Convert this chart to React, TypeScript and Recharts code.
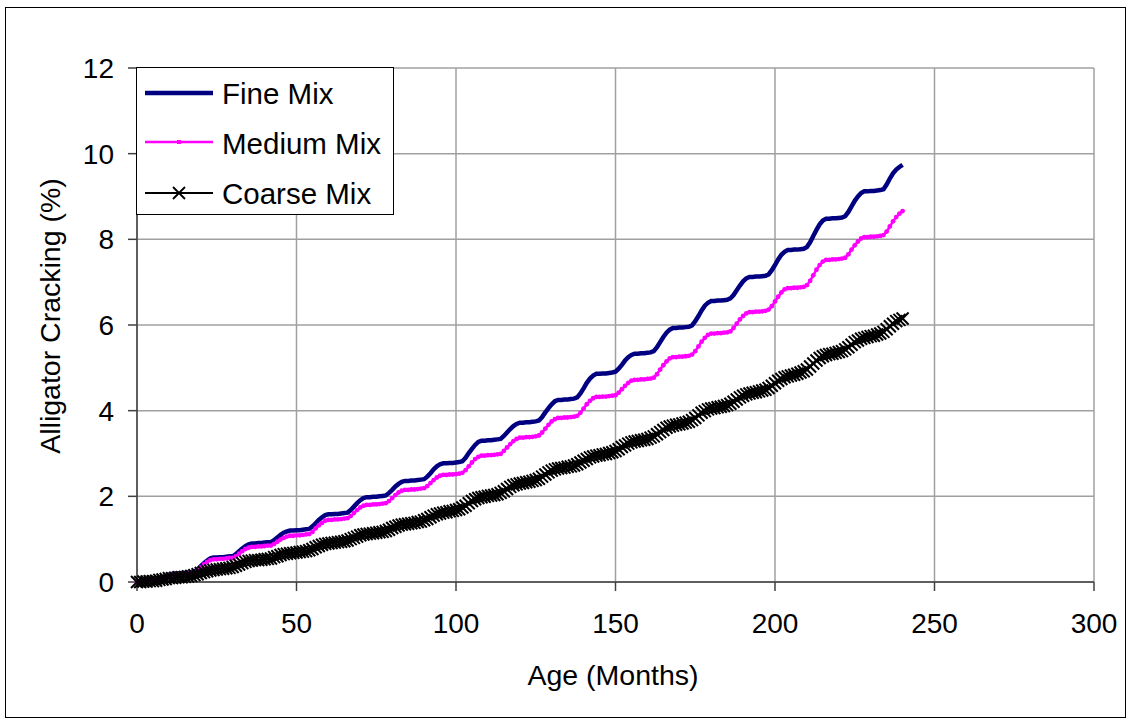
import React from "react";
import { LineChart, Line, XAxis, YAxis, CartesianGrid } from "recharts";

// monthly values, month 0..240
const FINE_MIX = [
  0, 0, 0.01, 0.02, 0.03, 0.04, 0.06, 0.08, 0.11, 0.14, 0.17, 0.19,
  0.2, 0.2, 0.21, 0.21, 0.22, 0.23, 0.24, 0.29, 0.37, 0.44, 0.5, 0.55,
  0.57, 0.57, 0.58, 0.58, 0.59, 0.6, 0.6, 0.65, 0.72, 0.78, 0.84, 0.88,
  0.9, 0.9, 0.91, 0.91, 0.92, 0.93, 0.93, 0.98, 1.04, 1.1, 1.15, 1.18,
  1.2, 1.2, 1.21, 1.21, 1.22, 1.23, 1.24, 1.3, 1.37, 1.45, 1.51, 1.56,
  1.58, 1.58, 1.59, 1.59, 1.6, 1.61, 1.62, 1.68, 1.76, 1.84, 1.91, 1.96,
  1.98, 1.98, 1.99, 1.99, 2, 2.01, 2.02, 2.08, 2.15, 2.23, 2.29, 2.34,
  2.36, 2.36, 2.37, 2.37, 2.38, 2.39, 2.4, 2.46, 2.54, 2.63, 2.7, 2.75,
  2.77, 2.77, 2.78, 2.78, 2.79, 2.8, 2.82, 2.9, 3.01, 3.11, 3.2, 3.27,
  3.3, 3.3, 3.31, 3.31, 3.32, 3.33, 3.34, 3.41, 3.49, 3.57, 3.64, 3.69,
  3.72, 3.72, 3.73, 3.73, 3.74, 3.75, 3.77, 3.85, 3.96, 4.06, 4.15, 4.22,
  4.25, 4.25, 4.26, 4.26, 4.27, 4.28, 4.31, 4.4, 4.52, 4.65, 4.75, 4.82,
  4.86, 4.86, 4.87, 4.87, 4.88, 4.89, 4.91, 4.98, 5.07, 5.17, 5.25, 5.3,
  5.33, 5.33, 5.34, 5.34, 5.35, 5.36, 5.39, 5.48, 5.6, 5.72, 5.82, 5.89,
  5.93, 5.93, 5.94, 5.94, 5.95, 5.96, 5.99, 6.09, 6.21, 6.34, 6.45, 6.52,
  6.56, 6.56, 6.57, 6.57, 6.58, 6.59, 6.62, 6.7, 6.81, 6.92, 7.02, 7.09,
  7.12, 7.12, 7.13, 7.13, 7.14, 7.15, 7.18, 7.28, 7.4, 7.53, 7.64, 7.71,
  7.75, 7.75, 7.76, 7.76, 7.77, 7.78, 7.82, 7.93, 8.08, 8.22, 8.35, 8.44,
  8.48, 8.48, 8.49, 8.49, 8.5, 8.51, 8.54, 8.64, 8.77, 8.9, 9, 9.08,
  9.12, 9.12, 9.13, 9.13, 9.14, 9.15, 9.17, 9.28, 9.42, 9.54, 9.63, 9.69, 9.74,
];

const MEDIUM_MIX = [
  0, 0, 0.01, 0.02, 0.03, 0.04, 0.05, 0.07, 0.1, 0.13, 0.15, 0.17,
  0.18, 0.18, 0.19, 0.19, 0.2, 0.21, 0.22, 0.27, 0.34, 0.41, 0.47, 0.51,
  0.53, 0.53, 0.54, 0.54, 0.55, 0.56, 0.56, 0.6, 0.66, 0.72, 0.77, 0.8,
  0.82, 0.82, 0.83, 0.83, 0.84, 0.85, 0.85, 0.89, 0.94, 0.99, 1.03, 1.06,
  1.08, 1.08, 1.09, 1.09, 1.1, 1.11, 1.12, 1.17, 1.25, 1.32, 1.38, 1.43,
  1.45, 1.45, 1.46, 1.46, 1.47, 1.48, 1.49, 1.54, 1.61, 1.68, 1.74, 1.78,
  1.8, 1.8, 1.81, 1.81, 1.82, 1.83, 1.84, 1.89, 1.96, 2.03, 2.09, 2.13,
  2.15, 2.15, 2.16, 2.16, 2.17, 2.18, 2.19, 2.24, 2.31, 2.38, 2.44, 2.48,
  2.5, 2.5, 2.51, 2.51, 2.52, 2.53, 2.55, 2.61, 2.7, 2.79, 2.87, 2.92,
  2.95, 2.95, 2.96, 2.96, 2.97, 2.98, 2.99, 3.06, 3.14, 3.22, 3.29, 3.34,
  3.37, 3.37, 3.38, 3.38, 3.39, 3.4, 3.42, 3.49, 3.58, 3.67, 3.75, 3.8,
  3.83, 3.83, 3.84, 3.84, 3.85, 3.86, 3.88, 3.95, 4.05, 4.15, 4.23, 4.29,
  4.32, 4.32, 4.33, 4.33, 4.34, 4.35, 4.36, 4.42, 4.5, 4.58, 4.65, 4.7,
  4.72, 4.72, 4.73, 4.73, 4.74, 4.75, 4.77, 4.85, 4.96, 5.06, 5.15, 5.22,
  5.25, 5.25, 5.26, 5.26, 5.27, 5.28, 5.31, 5.39, 5.5, 5.61, 5.7, 5.77,
  5.8, 5.8, 5.81, 5.81, 5.82, 5.83, 5.85, 5.93, 6.03, 6.13, 6.21, 6.27,
  6.3, 6.3, 6.31, 6.31, 6.32, 6.33, 6.36, 6.44, 6.55, 6.66, 6.76, 6.83,
  6.86, 6.86, 6.87, 6.87, 6.88, 6.89, 6.93, 7.03, 7.16, 7.29, 7.4, 7.48,
  7.52, 7.52, 7.53, 7.53, 7.54, 7.55, 7.57, 7.65, 7.76, 7.86, 7.95, 8.02,
  8.05, 8.05, 8.06, 8.06, 8.07, 8.08, 8.1, 8.18, 8.3, 8.42, 8.52, 8.6, 8.66,
];

const COARSE_MIX = [
  0, 0, 0.01, 0.01, 0.02, 0.02, 0.03, 0.05, 0.06, 0.07, 0.09, 0.09,
  0.1, 0.11, 0.11, 0.12, 0.13, 0.14, 0.16, 0.18, 0.21, 0.23, 0.25, 0.27,
  0.28, 0.29, 0.3, 0.31, 0.32, 0.33, 0.35, 0.38, 0.41, 0.44, 0.47, 0.49,
  0.5, 0.51, 0.51, 0.52, 0.53, 0.54, 0.55, 0.58, 0.6, 0.63, 0.65, 0.66,
  0.67, 0.68, 0.69, 0.7, 0.71, 0.72, 0.74, 0.77, 0.81, 0.84, 0.87, 0.89,
  0.9, 0.91, 0.92, 0.93, 0.94, 0.95, 0.97, 1, 1.03, 1.06, 1.09, 1.11,
  1.12, 1.13, 1.14, 1.15, 1.16, 1.17, 1.19, 1.22, 1.26, 1.29, 1.32, 1.34,
  1.35, 1.36, 1.37, 1.38, 1.4, 1.41, 1.44, 1.47, 1.51, 1.55, 1.58, 1.6,
  1.62, 1.63, 1.65, 1.66, 1.68, 1.7, 1.74, 1.78, 1.84, 1.89, 1.93, 1.96,
  1.98, 1.99, 2.01, 2.02, 2.03, 2.05, 2.08, 2.12, 2.17, 2.22, 2.26, 2.28,
  2.3, 2.31, 2.33, 2.34, 2.36, 2.38, 2.41, 2.46, 2.51, 2.56, 2.6, 2.63,
  2.65, 2.66, 2.67, 2.69, 2.7, 2.72, 2.75, 2.79, 2.83, 2.87, 2.91, 2.93,
  2.95, 2.96, 2.98, 2.99, 3.01, 3.03, 3.06, 3.1, 3.15, 3.19, 3.23, 3.26,
  3.28, 3.29, 3.31, 3.32, 3.34, 3.37, 3.4, 3.45, 3.5, 3.55, 3.6, 3.63,
  3.65, 3.67, 3.68, 3.7, 3.72, 3.74, 3.78, 3.83, 3.89, 3.95, 3.99, 4.03,
  4.05, 4.06, 4.08, 4.09, 4.11, 4.13, 4.16, 4.21, 4.26, 4.31, 4.35, 4.38,
  4.4, 4.42, 4.43, 4.45, 4.47, 4.49, 4.53, 4.58, 4.64, 4.7, 4.74, 4.78,
  4.8, 4.82, 4.84, 4.86, 4.89, 4.92, 4.96, 5.03, 5.1, 5.17, 5.23, 5.27,
  5.3, 5.32, 5.33, 5.35, 5.37, 5.39, 5.43, 5.48, 5.54, 5.6, 5.64, 5.68,
  5.7, 5.72, 5.74, 5.75, 5.78, 5.8, 5.84, 5.9, 5.97, 6.03, 6.09, 6.12, 6.15,
];

const X_TICKS = [0, 50, 100, 150, 200, 250, 300];
const Y_TICKS = [0, 2, 4, 6, 8, 10, 12];

const SERIES = [
  { key: "fine", name: "Fine Mix", color: "#000080" },
  { key: "medium", name: "Medium Mix", color: "#FF00FF" },
  { key: "coarse", name: "Coarse Mix", color: "#000000" },
];

const rows = FINE_MIX.map((v, i) => ({
  month: i,
  fine: v,
  medium: MEDIUM_MIX[i],
  coarse: COARSE_MIX[i],
}));

const FONT = "Arial, 'Liberation Sans', sans-serif";

function Cross(props: any) {
  const { cx, cy, index } = props;
  if (cx == null || cy == null) return <g key={`x-${index}`} />;
  const s = 6;
  return (
    <path
      key={`x-${index}`}
      d={`M${cx - s},${cy - s}L${cx + s},${cy + s}M${cx - s},${cy + s}L${cx + s},${cy - s}`}
      stroke="#000"
      strokeWidth={2}
      fill="none"
    />
  );
}

function LegendBox() {
  return (
    <svg
      width={258}
      height={148}
      style={{ position: "absolute", left: 136, top: 67 }}
    >
      <rect x={0.5} y={0.5} width={257} height={147} fill="#fff" stroke="#000" />
      <line x1={9} y1={26} x2={77} y2={26} stroke="#000080" strokeWidth={4.5} />
      <line x1={9} y1={75} x2={77} y2={75} stroke="#FF00FF" strokeWidth={2.5} />
      <rect x={41} y={73} width={4} height={4} fill="#FF00FF" />
      <line x1={9} y1={126} x2={77} y2={126} stroke="#000" strokeWidth={1.8} />
      <path d="M37,120L49,132M37,132L49,120" stroke="#000" strokeWidth={1.8} />
      {SERIES.map((s, i) => (
        <text
          key={s.key}
          x={86}
          y={26 + i * 50}
          dy="0.36em"
          fontSize={29.5}
          fontFamily={FONT}
          fill="#000"
        >
          {s.name}
        </text>
      ))}
    </svg>
  );
}

export default function App() {
  return (
    <div
      style={{
        position: "absolute",
        left: 0,
        top: 0,
        width: 1130,
        height: 722,
        background: "#fff",
        fontFamily: FONT,
      }}
    >
      <div
        style={{
          position: "absolute",
          left: 5,
          top: 7,
          width: 1119,
          height: 709,
          border: "1.5px solid #000",
        }}
      />
      <LineChart
        width={1130}
        height={722}
        data={rows}
        margin={{ top: 68, right: 36, bottom: 110, left: 77 }}
        style={{ position: "absolute", left: 0, top: 0 }}
      >
        <CartesianGrid stroke="#a0a0a0" strokeWidth={1.5} />
        <XAxis
          dataKey="month"
          type="number"
          domain={[0, 300]}
          ticks={X_TICKS}
          interval={0}
          height={30}
          tickSize={9}
          tickMargin={22}
          stroke="#404040"
          strokeWidth={1.5}
          tick={{ fontSize: 28, fill: "#000", fontFamily: FONT }}
          label={{
            content: () => (
              <text x={613} y={685} textAnchor="middle" fontSize={28.5} fontFamily={FONT} fill="#000">
                Age (Months)
              </text>
            ),
          }}
        />
        <YAxis
          type="number"
          domain={[0, 12]}
          ticks={Y_TICKS}
          interval={0}
          width={60}
          tickSize={9}
          tickMargin={14}
          stroke="#404040"
          strokeWidth={1.5}
          tick={{ fontSize: 28, fill: "#000", fontFamily: FONT }}
          label={{
            content: () => (
              <text
                x={50}
                y={316}
                transform="rotate(-90 50 316)"
                textAnchor="middle"
                dominantBaseline="central"
                fontSize={28.5}
                fontFamily={FONT}
                fill="#000"
              >
                Alligator Cracking (%)
              </text>
            ),
          }}
        />
        <Line
          dataKey="fine"
          name="Fine Mix"
          stroke="#000080"
          strokeWidth={4.5}
          dot={false}
          type="linear"
          isAnimationActive={false}
        />
        <Line
          dataKey="medium"
          name="Medium Mix"
          stroke="#FF00FF"
          strokeWidth={2.5}
          dot={{ r: 2.4, fill: "#FF00FF", stroke: "none" }}
          type="linear"
          isAnimationActive={false}
        />
        <Line
          dataKey="coarse"
          name="Coarse Mix"
          stroke="#000"
          strokeWidth={1.8}
          dot={Cross}
          type="linear"
          isAnimationActive={false}
        />
      </LineChart>
      <LegendBox />
    </div>
  );
}
